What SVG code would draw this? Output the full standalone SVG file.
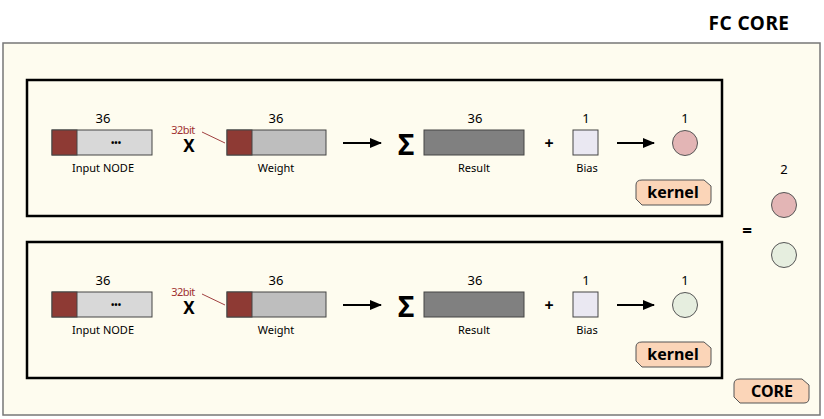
<svg xmlns="http://www.w3.org/2000/svg" width="824" height="419" viewBox="0 0 824 419">
<defs>
<style>
.t{font-family:"Noto Sans","Open Sans","Liberation Sans",sans-serif;fill:#000;text-anchor:middle}
.num{font-size:13px}
.lbl{font-size:11px}
.bit{font-size:11px;fill:#a03030;letter-spacing:-0.5px}
.b{font-weight:bold}
.cell{stroke:#444;stroke-width:1}
.inner{fill:#fefcef;stroke:#000;stroke-width:2.5}
.tag{fill:#fbd5b8;stroke:#555;stroke-width:1}
.conn{stroke:#000;stroke-width:2;fill:none}
</style>
<marker id="ah" markerWidth="12" markerHeight="10" refX="11" refY="5" orient="auto" markerUnits="userSpaceOnUse">
<path d="M0,0 L12,5 L0,10 z" fill="#000"/>
</marker>
<g id="row">
<rect class="inner" x="27" y="80" width="695" height="136"/>
<text class="t num" x="103" y="123">36</text>
<rect class="cell" x="52" y="130" width="100" height="25" fill="#d8d8d8"/>
<rect class="cell" x="52" y="130" width="25" height="25" fill="#8e3a34"/>
<text class="t b" x="116" y="146" font-size="9">•••</text>
<text class="t lbl" x="103" y="172">Input NODE</text>
<text class="t bit" x="183" y="134">32bit</text>
<line x1="202" y1="132" x2="225" y2="143" stroke="#a04040" stroke-width="1"/>
<text class="t b" x="189" y="152" font-size="17">X</text>
<text class="t num" x="276" y="123">36</text>
<rect class="cell" x="227" y="130" width="99" height="25" fill="#bebebe"/>
<rect class="cell" x="227" y="130" width="25" height="25" fill="#8e3a34"/>
<text class="t lbl" x="276" y="172">Weight</text>
<line class="conn" x1="343" y1="143" x2="381" y2="143" marker-end="url(#ah)"/>
<text class="t b" x="406" y="155" font-size="28">Σ</text>
<text class="t num" x="475" y="123">36</text>
<rect class="cell" x="424" y="130" width="100" height="25" fill="#808080"/>
<text class="t lbl" x="474" y="172">Result</text>
<text class="t b" x="549" y="149" font-size="16">+</text>
<text class="t num" x="586" y="123">1</text>
<rect class="cell" x="573" y="130" width="25" height="25" fill="#eae8f2"/>
<text class="t lbl" x="587" y="172">Bias</text>
<line class="conn" x1="617" y1="143" x2="654" y2="143" marker-end="url(#ah)"/>
<text class="t num" x="685" y="123">1</text>
<path class="tag" d="M642,180 H704 L711,186 V200 Q711,205 706,205 H642 L636,199 V185 Q636,180 642,180 Z"/>
<text class="t b" x="673" y="198" font-size="16">kernel</text>
</g>
</defs>
<rect id="core" x="3" y="43" width="817" height="372" fill="#fefcef" stroke="#777" stroke-width="1.5"/>
<text class="t b" x="749" y="30" font-size="19" letter-spacing="0.5">FC CORE</text>
<g id="kernel1">
<use href="#row"/>
<circle cx="685" cy="143" r="12.5" fill="#e3b5b5" stroke="#555" stroke-width="1"/>
</g>
<g id="kernel2">
<use href="#row" transform="translate(0,162)"/>
<circle cx="685" cy="305" r="12.5" fill="#e6eedf" stroke="#555" stroke-width="1"/>
</g>
<g id="output">
<text class="t num" x="784" y="174">2</text>
<circle cx="784" cy="205" r="12.5" fill="#e3b5b5" stroke="#555" stroke-width="1"/>
<circle cx="784" cy="255" r="12.5" fill="#e6eedf" stroke="#555" stroke-width="1"/>
<text class="t b" x="747" y="237" font-size="17">=</text>
</g>
<g id="coretag">
<path class="tag" d="M740,379 H802 L809,385 V398 Q809,403 804,403 H740 L734,397 V384 Q734,379 740,379 Z"/>
<text class="t b" x="772" y="397" font-size="16">CORE</text>
</g>
</svg>
